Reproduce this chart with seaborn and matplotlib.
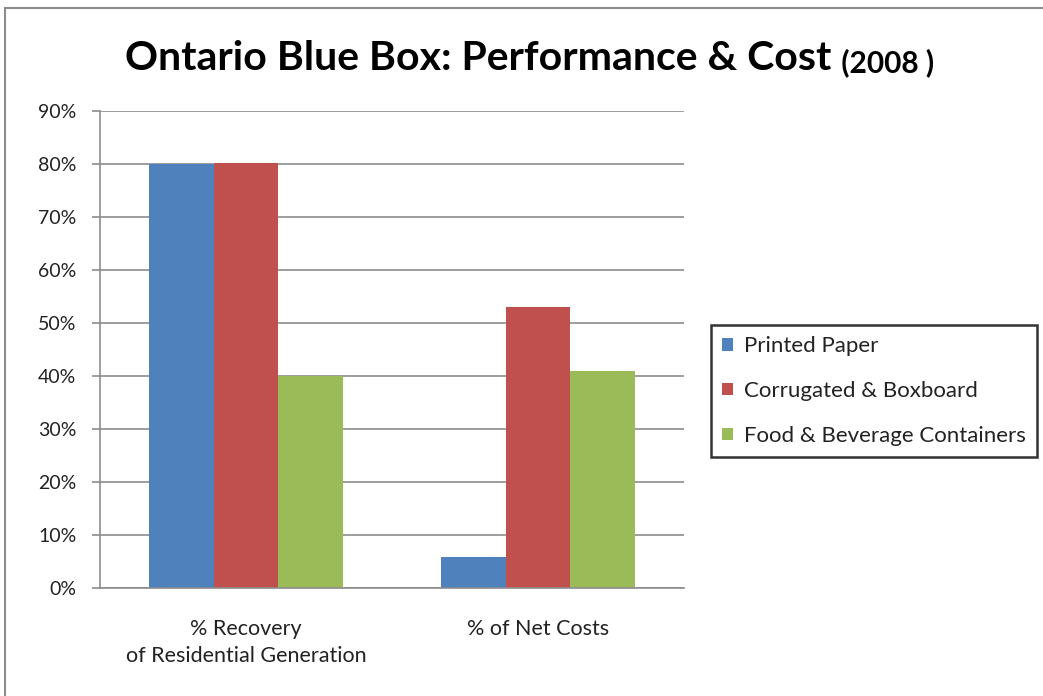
import matplotlib
matplotlib.use("Agg")
import matplotlib.pyplot as plt
import seaborn as sns
import pandas as pd
from matplotlib.patches import Rectangle
from matplotlib.ticker import PercentFormatter

categories = ["% Recovery\nof Residential Generation", "% of Net Costs"]
series = ["Printed Paper", "Corrugated & Boxboard", "Food & Beverage Containers"]
printed_paper = [80.0, 5.8]
corrugated = [80.2, 53.0]
food_bev = [40.0, 41.0]
colors = ["#4F81BD", "#C0504D", "#9BBB59"]
yticks = [0, 10, 20, 30, 40, 50, 60, 70, 80, 90]

rows = []
for s, vals in zip(series, [printed_paper, corrugated, food_bev]):
    for c, v in zip(categories, vals):
        rows.append({"category": c, "series": s, "value": v})
df = pd.DataFrame(rows)

sns.set_theme(style="white")
plt.rcParams["font.family"] = ["Lato", "DejaVu Sans"]

fig = plt.figure(figsize=(10.43, 6.96), dpi=100)
ax = fig.add_axes([100 / 1043, 1 - 588 / 696, (684 - 100) / 1043, (588 - 111) / 696])

sns.barplot(data=df, x="category", y="value", hue="series", hue_order=series,
            order=categories, palette=colors, width=0.665, gap=0, saturation=1,
            edgecolor="none", linewidth=0, ax=ax, legend=True)

ax.set_xlim(-0.5, 1.5)
ax.set_ylim(0, 90)
ax.set_yticks(yticks)
ax.yaxis.set_major_formatter(PercentFormatter(decimals=0))
ax.set_xlabel("")
ax.set_ylabel("")
ax.grid(axis="y", color="#8c8c8c", linewidth=1.2)
ax.set_axisbelow(True)
for side in ["top", "right"]:
    ax.spines[side].set_visible(False)
ax.spines["left"].set_color("#8c8c8c")
ax.spines["left"].set_linewidth(1.2)
ax.spines["bottom"].set_color("#8c8c8c")
ax.spines["bottom"].set_linewidth(1.2)
ax.tick_params(axis="y", left=True, length=6, width=1.2, color="#8c8c8c",
               labelsize=14, labelcolor="#222222", pad=11)
ax.tick_params(axis="x", bottom=False, labelsize=15.5, labelcolor="#222222", pad=16)
for lbl in ax.get_xticklabels():
    lbl.set_linespacing(1.45)

leg = ax.legend(loc="center left", bbox_to_anchor=(711 / 1043, 1 - 391 / 696),
                bbox_transform=fig.transFigure, frameon=True, fontsize=16,
                handlelength=0.5, handleheight=0.5, handletextpad=0.5,
                labelspacing=1.12, borderpad=0.5, borderaxespad=0, fancybox=False)
leg.get_frame().set_edgecolor("black")
leg.get_frame().set_linewidth(1.8)
for t in leg.get_texts():
    t.set_color("#222222")

t1 = fig.text(125 / 1043, 1 - 70 / 696, "Ontario Blue Box: Performance & Cost",
              fontsize=29.5, fontweight="bold", ha="left", va="baseline", color="black")
ax.annotate(" (2008 )", xy=(1, 0), xycoords=t1, xytext=(2, 0), textcoords="offset points",
            fontsize=21.5, fontweight="bold", ha="left", va="bottom", color="black",
            annotation_clip=False)

fig.patches.append(Rectangle((5 / 1043, -0.05), 1.1, 1 - 8 / 696 + 0.05,
                             transform=fig.transFigure, fill=False,
                             edgecolor="#8c8c8c", linewidth=1.5, figure=fig))

fig.savefig("out.png", dpi=100)
